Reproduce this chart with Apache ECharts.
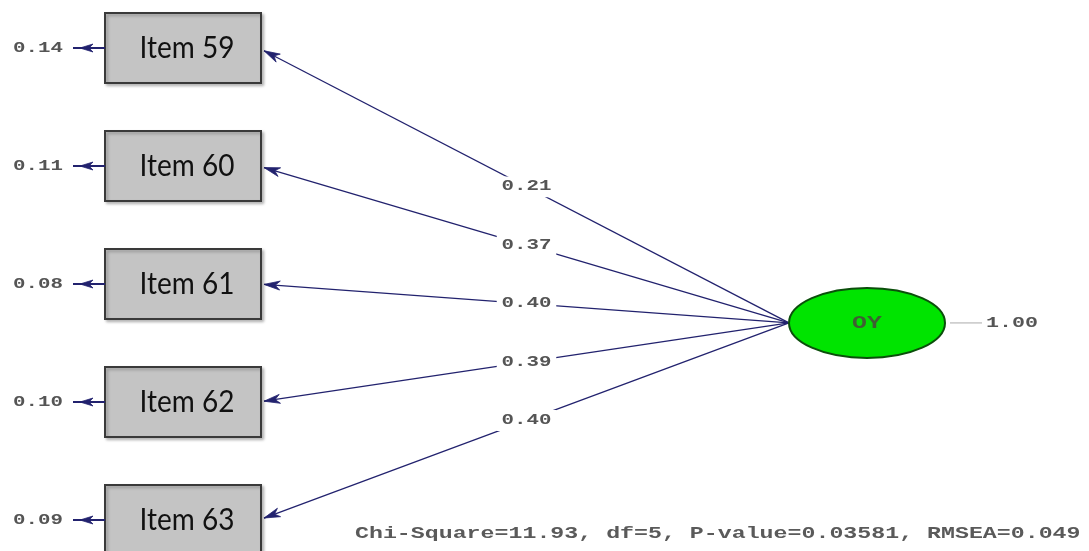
<!DOCTYPE html>
<html>
<head>
<meta charset="utf-8">
<script src="https://cdn.jsdelivr.net/npm/echarts@6/dist/echarts.min.js"></script>
<style>html,body{margin:0;padding:0;background:#fff}#c{width:1089px;height:551px}</style>
</head>
<body>
<div id="c"></div>
<script>
// ---- data ----
const items = ['Item 59', 'Item 60', 'Item 61', 'Item 62', 'Item 63'];
const loadings = ['0.21', '0.37', '0.40', '0.39', '0.40'];
const errorVars = ['0.14', '0.11', '0.08', '0.10', '0.09'];
const latentName = 'OY';
const latentVariance = '1.00';
const fitStats = 'Chi-Square=11.93, df=5, P-value=0.03581, RMSEA=0.049';

// ---- layout (axis units) ----
const BOX_X = 183, LAT_X = 867, LAT_ROW = 2.33;
const BOX_W = 156, BOX_H = 70, ELL_RX = 78, ELL_RY = 35;
const NAVY = '#22226e';
const MONO = '"Liberation Mono", "DejaVu Sans Mono", monospace';

function head(tip, from, len, half) {
  const dx = tip[0] - from[0], dy = tip[1] - from[1];
  const l = Math.sqrt(dx * dx + dy * dy);
  const ux = dx / l, uy = dy / l;
  const bx = tip[0] - ux * len, by = tip[1] - uy * len;
  const nx = -uy, ny = ux;
  return {
    type: 'polygon',
    shape: { points: [tip, [bx + nx * half, by + ny * half], [tip[0] - ux * len * 0.7, tip[1] - uy * len * 0.7], [bx - nx * half, by - ny * half]] },
    style: { fill: NAVY, stroke: NAVY, lineWidth: 0.8 }
  };
}
function mono(x, y, text, size, sx, fill, bg) {
  const st = { text: text, font: 'bold ' + size + 'px ' + MONO, fill: fill, align: 'center', verticalAlign: 'middle' };
  if (bg) { st.backgroundColor = '#fff'; st.padding = [3, 3]; }
  return { type: 'text', x: x, y: y, scaleX: sx, scaleY: 1.1, style: st };
}

const chart = echarts.init(document.getElementById('c'), null, { renderer: 'canvas' });
chart.setOption({
  animation: false,
  backgroundColor: '#fff',
  grid: { left: 0, right: 0, top: 0, bottom: 0 },
  xAxis: { type: 'value', min: 0, max: 1089, show: false },
  yAxis: { type: 'value', inverse: true, min: -48 / 118, max: 503 / 118, show: false },
  graphic: [{
    type: 'text', x: 355, y: 534, scaleX: 1.55, scaleY: 1.1,
    style: { text: fitStats, font: 'bold 15px ' + MONO, fill: '#5a5a5a', verticalAlign: 'middle' }
  }],
  series: [
    {
      type: 'custom',
      coordinateSystem: 'cartesian2d',
      data: items.map((n, i) => [BOX_X, i]),
      renderItem: function (params, api) {
        const i = params.dataIndex;
        const c = api.coord([api.value(0), api.value(1)]);
        const L = api.coord([LAT_X, LAT_ROW]);
        const start = [L[0] - ELL_RX, L[1]];
        const tip = [c[0] + BOX_W / 2 + 3, c[1] + (L[1] - c[1]) * 0.01];
        const mid = [start[0] + (tip[0] - start[0]) * 0.5, start[1] + (tip[1] - start[1]) * 0.5];
        const errTip = [c[0] - 103, c[1]];
        return {
          type: 'group',
          children: [
            { type: 'line', shape: { x1: start[0], y1: start[1], x2: tip[0], y2: tip[1] }, style: { stroke: NAVY, lineWidth: 1.3 } },
            head(tip, start, 16, 4.5),
            mono(mid[0], mid[1], loadings[i], 13, 1.6, '#555', true),
            {
              type: 'rect',
              shape: { x: c[0] - BOX_W / 2, y: c[1] - BOX_H / 2, width: BOX_W, height: BOX_H },
              style: { fill: '#c4c4c4', stroke: '#3a3a3a', lineWidth: 2, shadowBlur: 3, shadowColor: 'rgba(0,0,0,0.25)', shadowOffsetX: 2, shadowOffsetY: 2 }
            },
            { type: 'text', x: c[0] + 4, y: c[1], scaleY: 1.12, style: { text: items[i], font: 'normal 28px Lato, "Open Sans", sans-serif', fill: '#111', align: 'center', verticalAlign: 'middle' } },
            { type: 'line', shape: { x1: c[0] - BOX_W / 2, y1: c[1], x2: c[0] - 110, y2: c[1] }, style: { stroke: NAVY, lineWidth: 2 } },
            head(errTip, [c[0] - 90, c[1]], 13, 4),
            mono(c[0] - 145, c[1], errorVars[i], 13, 1.6, '#555', false)
          ]
        };
      },
      z: 2
    },
    {
      type: 'custom',
      coordinateSystem: 'cartesian2d',
      data: [[LAT_X, LAT_ROW]],
      renderItem: function (params, api) {
        const c = api.coord([api.value(0), api.value(1)]);
        return {
          type: 'group',
          children: [
            { type: 'ellipse', shape: { cx: c[0], cy: c[1], rx: ELL_RX, ry: ELL_RY }, style: { fill: '#00e400', stroke: '#0b4f0b', lineWidth: 2 } },
            mono(c[0], c[1] + 1, latentName, 16, 1.55, '#3f5f33', false),
            { type: 'line', shape: { x1: c[0] + ELL_RX + 5, y1: c[1], x2: c[0] + ELL_RX + 37, y2: c[1] }, style: { stroke: '#aaa', lineWidth: 1 } },
            mono(c[0] + 145, c[1], latentVariance, 14, 1.55, '#555', false)
          ]
        };
      },
      z: 3
    }
  ]
});
</script>
</body>
</html>
